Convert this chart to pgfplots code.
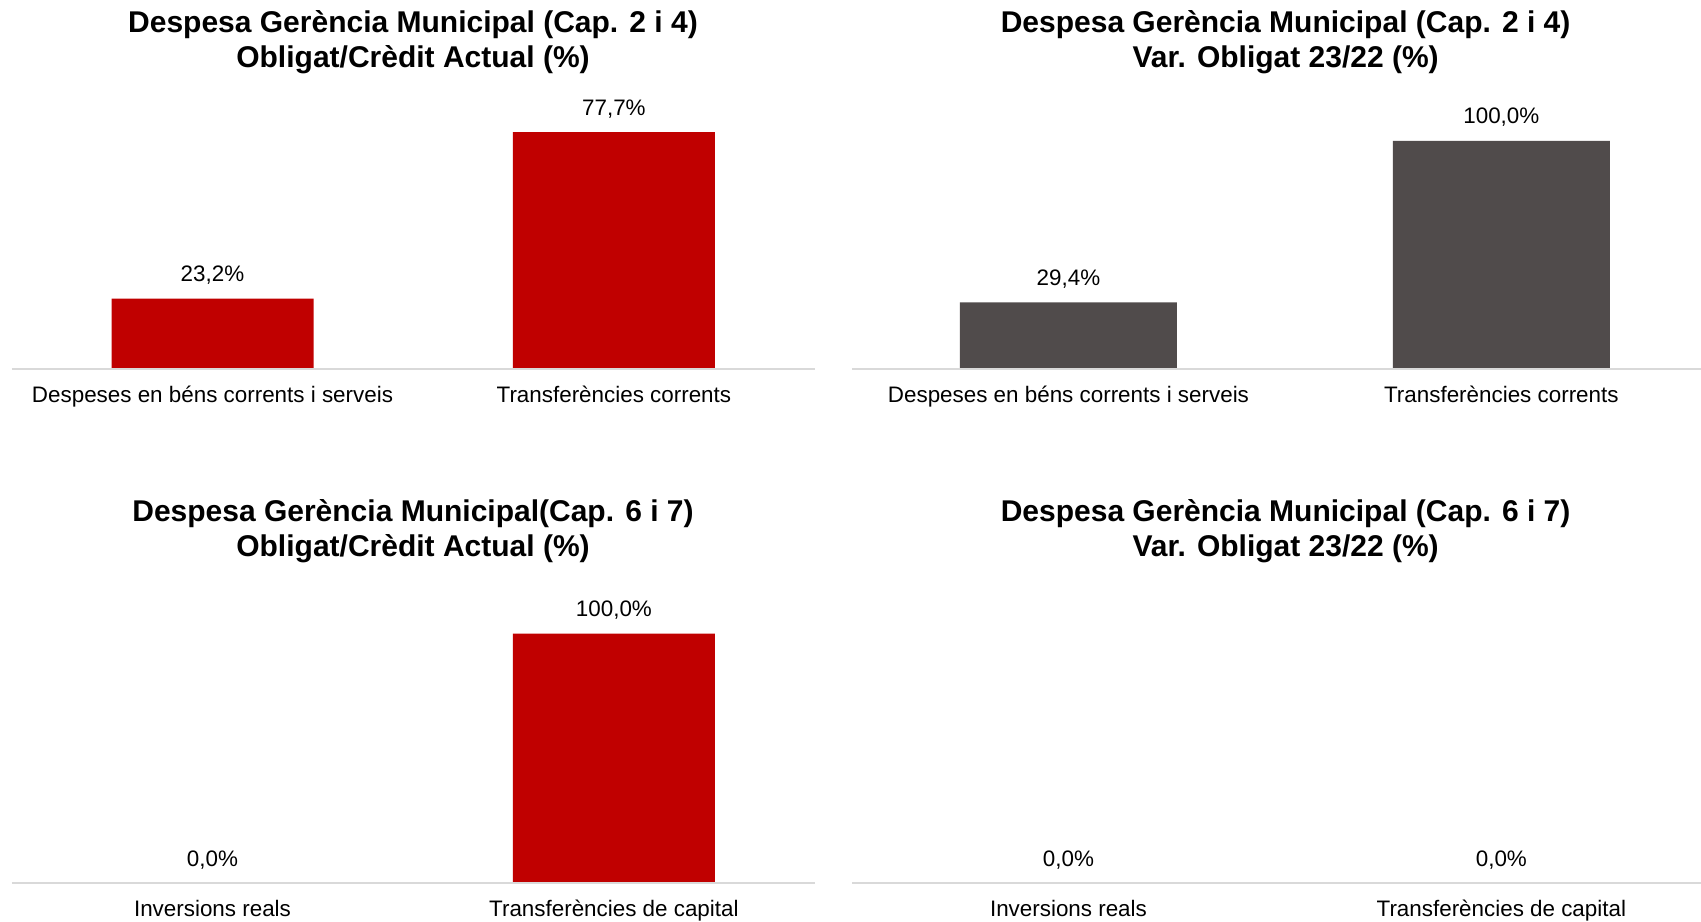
\documentclass[border=0pt]{standalone}
\usepackage{pgfplots}
\pgfplotsset{compat=1.18}
\usepackage{fontspec}
\setmainfont{Liberation Sans}
\definecolor{barred}{RGB}{192,0,0}
\definecolor{bargray}{RGB}{80,75,75}
\definecolor{axisgray}{RGB}{217,217,217}

\pgfplotsset{
  panel/.style={
    scale only axis,
    anchor=south west,
    ybar,
    ymin=0,
    xmin=-0.5, xmax=1.5,
    axis x line=bottom,
    axis y line=none,
    axis on top,
    x axis line style={draw=axisgray, line width=1pt, -},
    xtick={0,1},
    major tick length=0pt,
    ytick=\empty,
    xticklabel style={font=\fontsize{11.2}{13}\selectfont, anchor=base, yshift=-16.5pt},
    nodes near coords={\pgfmathprintnumber[fixed,fixed zerofill,precision=1,use comma]{\pgfplotspointmeta}\%},
    every node near coord/.append style={font=\fontsize{11.2}{13}\selectfont, anchor=base, yshift=8.5pt, text=black},
    /pgf/number format/assume math mode=true,
    clip=false,
  },
}

\begin{document}
\begin{tikzpicture}
\useasboundingbox (0pt,0pt) rectangle (850.5pt,460.5pt);

% Top-left
\begin{axis}[panel, at={(5.9pt,275.75pt)}, width=401.4pt, height=137.4pt, ymax=90,
  bar width=101pt,
  xticklabels={Despeses en béns corrents i serveis, Transferències corrents}]
\addplot[fill=barred, draw=none] coordinates {(0,23.2) (1,77.7)};
\end{axis}

% Top-right
\begin{axis}[panel, at={(426pt,275.75pt)}, width=432.9pt, height=125.7pt, ymax=110,
  bar width=108.5pt,
  xticklabels={Despeses en béns corrents i serveis, Transferències corrents}]
\addplot[fill=bargray, draw=none] coordinates {(0,29.4) (1,100.0)};
\end{axis}

% Bottom-left
\begin{axis}[panel, at={(5.9pt,19pt)}, width=401.4pt, height=137.2pt, ymax=110,
  bar width=101pt,
  xticklabels={Inversions reals, Transferències de capital}]
\addplot[fill=barred, draw=none] coordinates {(0,0.0) (1,100.0)};
\end{axis}

% Bottom-right
\begin{axis}[panel, at={(426pt,19pt)}, width=432.9pt, height=137.2pt, ymax=110,
  bar width=108.5pt,
  xticklabels={Inversions reals, Transferències de capital}]
\addplot[fill=bargray, draw=none] coordinates {(0,0.0) (1,0.0)};
\end{axis}

% Titles
\tikzset{ttl/.style={font=\bfseries\fontsize{15}{17}\selectfont, anchor=base, inner sep=0pt}}
\node[ttl] at (206.5pt,444.3pt) {Despesa Gerència Municipal (Cap. 2 i 4)};
\node[ttl] at (206.5pt,426.95pt) {Obligat/Crèdit Actual (\%)};
\node[ttl] at (642.8pt,444.3pt) {Despesa Gerència Municipal (Cap. 2 i 4)};
\node[ttl] at (642.8pt,426.95pt) {Var. Obligat 23/22 (\%)};
\node[ttl] at (206.5pt,199.65pt) {Despesa Gerència Municipal(Cap. 6 i 7)};
\node[ttl] at (206.5pt,182.3pt) {Obligat/Crèdit Actual (\%)};
\node[ttl] at (642.8pt,199.65pt) {Despesa Gerència Municipal (Cap. 6 i 7)};
\node[ttl] at (642.8pt,182.3pt) {Var. Obligat 23/22 (\%)};
\end{tikzpicture}
\end{document}
